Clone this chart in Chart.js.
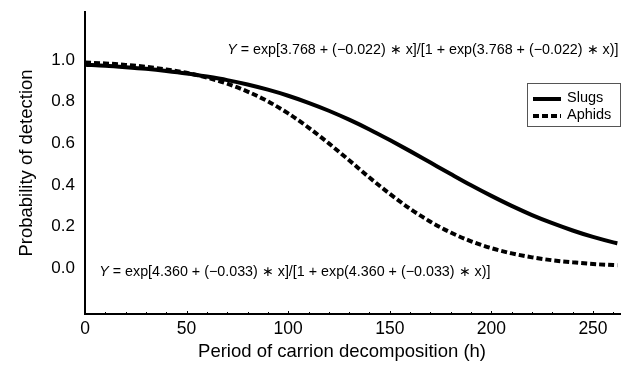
<!DOCTYPE html>
<html lang="en">
<head>
  <meta charset="UTF-8">
  <title>Probability of detection</title>
  <script src="https://cdn.jsdelivr.net/npm/chart.js"></script>
  <style>
    html, body { margin: 0; padding: 0; background: #fff; }
    #wrap { width: 628px; height: 368px; }
  </style>
</head>
<body>
  <div id="wrap"><canvas id="detectChart" width="628" height="368"></canvas></div>

  <script>
    // hours of decomposition
    const hours = [0, 10, 20, 30, 40, 50, 60, 70, 80, 90, 100, 110, 120, 130,
                   140, 150, 160, 170, 180, 190, 200, 210, 220, 230, 240, 250, 260, 262];

    // Y = exp[3.768 - 0.022x] / [1 + exp(3.768 - 0.022x)]
    const slugs = [0.977, 0.972, 0.965, 0.957, 0.947, 0.935, 0.920, 0.903, 0.882, 0.857,
                   0.828, 0.794, 0.756, 0.713, 0.666, 0.615, 0.562, 0.507, 0.452, 0.398,
                   0.347, 0.299, 0.255, 0.216, 0.181, 0.150, 0.124, 0.120];

    // Y = exp[4.360 - 0.033x] / [1 + exp(4.360 - 0.033x)]
    const aphids = [0.987, 0.983, 0.976, 0.967, 0.954, 0.938, 0.915, 0.886, 0.848, 0.801,
                    0.743, 0.675, 0.599, 0.518, 0.435, 0.357, 0.285, 0.223, 0.171, 0.129,
                    0.096, 0.071, 0.052, 0.038, 0.028, 0.020, 0.015, 0.014];

    const yTicks = [0, 0.2, 0.4, 0.6, 0.8, 1.0];
    const xTicks = [0, 50, 100, 150, 200, 250];

    const xTitle = 'Period of carrion decomposition (h)';
    const yTitle = 'Probability of detection';

    const eqSlugs = ['3.768', '(\u22120.022)'];
    const eqAphids = ['4.360', '(\u22120.033)'];

    const FONT = '"Liberation Sans", Arial, Helvetica, sans-serif';
    const EQ_SIZE = 14.3;

    function toPoints(ys) {
      return hours.map((h, i) => ({ x: h, y: ys[i] }));
    }

    // draws "Y = exp[a + b * x]/[1 + exp(a + b * x)]" with an italic Y
    function drawEquation(ctx, x, y, parts, alignRight) {
      const rest = ' = exp[' + parts[0] + ' + ' + parts[1] + ' \u2217 x]/[1 + exp(' +
                   parts[0] + ' + ' + parts[1] + ' \u2217 x)]';
      ctx.font = 'italic ' + EQ_SIZE + 'px ' + FONT;
      const wY = ctx.measureText('Y').width;
      ctx.font = EQ_SIZE + 'px ' + FONT;
      const wRest = ctx.measureText(rest).width;
      const left = alignRight ? x - wY - wRest : x;
      ctx.textAlign = 'left';
      ctx.textBaseline = 'middle';
      ctx.font = 'italic ' + EQ_SIZE + 'px ' + FONT;
      ctx.fillText('Y', left, y);
      ctx.font = EQ_SIZE + 'px ' + FONT;
      ctx.fillText(rest, left + wY, y);
    }

    const extras = {
      id: 'extras',
      afterDraw(chart) {
        const ctx = chart.ctx;
        const xs = chart.scales.x;
        const ys = chart.scales.y;
        const area = chart.chartArea;
        ctx.save();
        ctx.fillStyle = '#000';
        ctx.strokeStyle = '#000';

        // small inward ticks along the x axis
        ctx.lineWidth = 1;
        for (let v = 0; v <= 260; v += 10) {
          const px = Math.round(xs.getPixelForValue(v)) + 0.5;
          ctx.beginPath();
          ctx.moveTo(px, area.bottom);
          ctx.lineTo(px, area.bottom - (v % 50 === 0 ? 3 : 2));
          ctx.stroke();
        }

        // x axis title, sitting a little left of the plot centre
        ctx.font = '18.5px ' + FONT;
        ctx.textAlign = 'center';
        ctx.textBaseline = 'middle';
        ctx.fillText(xTitle, xs.getPixelForValue(126.5), 352);

        // equations
        drawEquation(ctx, xs.getPixelForValue(262.5), ys.getPixelForValue(1.048), eqSlugs, true);
        drawEquation(ctx, xs.getPixelForValue(7), ys.getPixelForValue(-0.019), eqAphids, false);

        // legend box
        const lx = 527, ly = 83, lw = 93, lh = 43;
        ctx.lineWidth = 1;
        ctx.strokeStyle = '#555';
        ctx.strokeRect(lx + 0.5, ly + 0.5, lw, lh);
        ctx.strokeStyle = '#000';
        ctx.lineWidth = 4;
        ctx.beginPath();
        ctx.moveTo(lx + 6, ly + 16);
        ctx.lineTo(lx + 34, ly + 16);
        ctx.stroke();
        ctx.setLineDash([6, 3]);
        ctx.beginPath();
        ctx.moveTo(lx + 6, ly + 33);
        ctx.lineTo(lx + 34, ly + 33);
        ctx.stroke();
        ctx.setLineDash([]);
        ctx.font = '14.5px ' + FONT;
        ctx.textAlign = 'left';
        ctx.fillText(chart.data.datasets[0].label, lx + 40, ly + 15);
        ctx.fillText(chart.data.datasets[1].label, lx + 40, ly + 32);
        ctx.restore();
      }
    };

    const ctx = document.getElementById('detectChart').getContext('2d');
    new Chart(ctx, {
      type: 'line',
      data: {
        datasets: [
          {
            label: 'Slugs',
            data: toPoints(slugs),
            borderColor: '#000',
            borderWidth: 4,
            pointRadius: 0,
            cubicInterpolationMode: 'monotone'
          },
          {
            label: 'Aphids',
            data: toPoints(aphids),
            borderColor: '#000',
            borderWidth: 4,
            borderDash: [6, 3],
            pointRadius: 0,
            cubicInterpolationMode: 'monotone'
          }
        ]
      },
      options: {
        responsive: false,
        animation: false,
        layout: { padding: { left: 0, right: 8, top: 12, bottom: 0 } },
        plugins: {
          legend: { display: false },
          tooltip: { enabled: false }
        },
        scales: {
          x: {
            type: 'linear',
            min: 0,
            max: 263.3,
            afterBuildTicks: s => { s.ticks = xTicks.map(v => ({ value: v })); },
            afterFit: s => { s.height = 54; },
            grid: { display: false, drawTicks: false },
            border: { display: true, color: '#000', width: 2 },
            ticks: {
              color: '#000',
              padding: 5,
              maxRotation: 0,
              font: { family: FONT, size: 17.5 }
            }
          },
          y: {
            min: -0.22,
            max: 1.23,
            afterBuildTicks: s => { s.ticks = yTicks.map(v => ({ value: v })); },
            afterFit: s => {
              s.width = 85;
              // labels sit well inside the axis range, no overhang needed
              s.paddingTop = 0;
              s.paddingBottom = 0;
            },
            grid: { display: false, drawTicks: false },
            border: { display: true, color: '#000', width: 2 },
            ticks: {
              color: '#000',
              padding: 10,
              font: { family: FONT, size: 17 },
              callback: v => v.toFixed(1)
            },
            title: {
              display: true,
              text: yTitle,
              color: '#000',
              padding: { top: 16, bottom: 0 },
              font: { family: FONT, size: 18.5 }
            }
          }
        }
      },
      plugins: [extras]
    });
  </script>
</body>
</html>
